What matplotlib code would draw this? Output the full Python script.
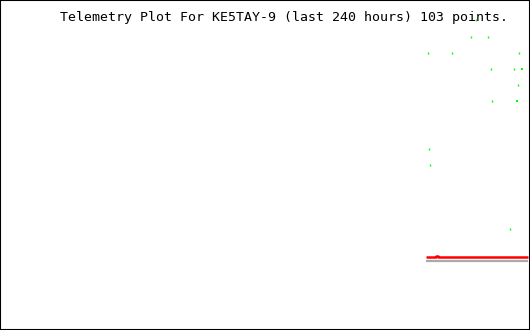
import matplotlib
matplotlib.use('Agg')
import matplotlib.pyplot as plt

# hours relative to now, values in plot units
green_hours = [-46.2, -45.7, -45.3, -35.3, -26.7, -24.4, -19.0, -17.7, -17.2,
               -9.1, -7.2, -5.9, -5.4, -5.0, -3.6]
green_vals = [277, 181, 165, 277, 293, 310, 293, 261, 229,
              101, 261, 229, 245, 277, 261]
green_big = [False, False, False, False, False, False, False, False, False,
             False, False, True, False, False, True]

red_hours = [-47.1, -42.6, -42.6, -41.7, -41.7, -0.9]
red_vals = [72.8, 72.8, 73.8, 73.8, 72.8, 72.8]

gray_hours = [-47.1, -0.9]
gray_vals = [68.8, 68.8]

title = 'Telemetry Plot For KE5TAY-9 (last 240 hours) 103 points.'

fig = plt.figure(figsize=(5.3, 3.3), dpi=100)
ax = fig.add_axes([0, 0, 1, 1])
ax.set_xlim(-240, 0)
ax.set_ylim(0, 330)
ax.set_xticks([])
ax.set_yticks([])
for s in ax.spines.values():
    s.set_linewidth(1.5)
    s.set_color('black')

ax.plot(gray_hours, gray_vals, color='#aaaaaa', lw=1.6,
        solid_capstyle='butt')
ax.plot(red_hours, red_vals, color='#ff0000', lw=1.8,
        solid_capstyle='butt')

# small green ticks, a couple of them doubled up
for h, v, big in zip(green_hours, green_vals, green_big):
    w = 1.44 if big else 1.0
    ax.plot([h], [v], marker='|', ms=1.8, mew=w, color='#00ff00',
            ls='none')

fig.text(60 / 530, 1 - 17 / 330, title, family='DejaVu Sans Mono',
         fontsize=9.55, va='center', ha='left', color='black')

fig.savefig('out.png', dpi=100)
